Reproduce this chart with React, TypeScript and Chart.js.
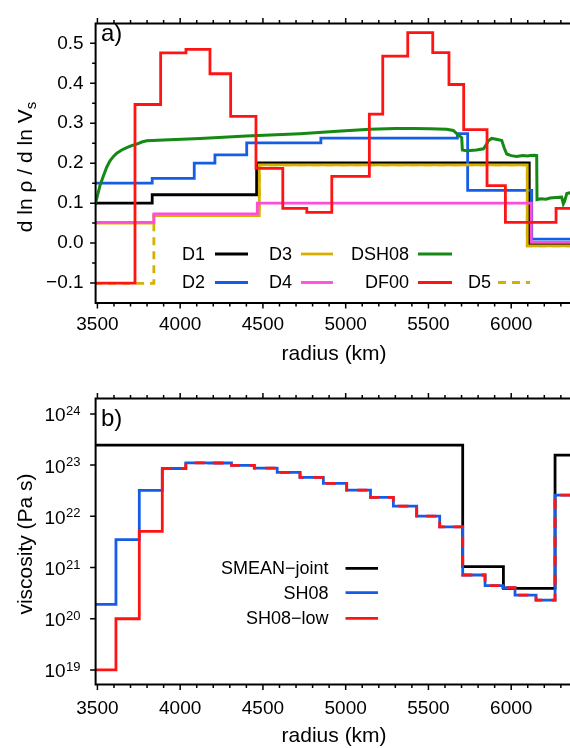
import React, { useEffect, useRef } from 'react';
import { Chart, registerables } from 'chart.js';

Chart.register(...registerables);

const FONT = '"Liberation Sans", Arial, Helvetica, sans-serif';

// ---------------- Panel a) : d ln rho / d ln Vs ----------------
const R_END = 6371;

const d1Radius = [3480, 3831, 4462, 6109];
const d1Value = [0.1, 0.121, 0.2005, -0.003];

const d2Radius = [3480, 3831, 4085, 4210, 4402, 4850, 5675, 5737, 6124];
const d2Value = [0.15, 0.162, 0.2, 0.221, 0.251, 0.263, 0.274, 0.132, 0.01];

const d3Radius = [3480, 3841, 4478, 6097];
const d3Value = [0.05, 0.069, 0.196, -0.007];

const d4Radius = [3480, 3841, 4466, 6121];
const d4Value = [0.052, 0.073, 0.1, 0.002];

const d5Radius = [3480, 3841, 4478, 6097];
const d5Value = [-0.101, 0.069, 0.196, -0.007];

const df00Radius = [3480, 3727, 3882, 4035, 4180, 4305, 4458, 4620, 4765, 4916, 5143, 5224, 5375, 5526, 5624, 5713, 5854, 5965, 6271];
const df00Value = [-0.1, 0.347, 0.476, 0.485, 0.424, 0.317, 0.187, 0.087, 0.077, 0.167, 0.323, 0.468, 0.527, 0.477, 0.397, 0.284, 0.144, 0.052, 0.087];

const dsh08Radius = [3485, 3492, 3516, 3536, 3556, 3576, 3597, 3617, 3647, 3677, 3707, 3738, 3768, 3798, 3900, 4120, 4400, 4724, 4950, 5146, 5300, 5409, 5510, 5610, 5650, 5671, 5690, 5701, 5705, 5730, 5751, 5790, 5832, 5848, 5862, 5882, 5910, 5943, 5958, 5973, 6000, 6033, 6070, 6100, 6114, 6140, 6154, 6156, 6180, 6210, 6235, 6270, 6305, 6315, 6322, 6336, 6356, 6371];
const dsh08Value = [0.095, 0.105, 0.145, 0.168, 0.19, 0.206, 0.217, 0.225, 0.233, 0.239, 0.244, 0.248, 0.253, 0.256, 0.258, 0.262, 0.268, 0.274, 0.28, 0.285, 0.287, 0.287, 0.286, 0.285, 0.282, 0.274, 0.268, 0.264, 0.233, 0.231, 0.232, 0.233, 0.236, 0.245, 0.256, 0.262, 0.26, 0.257, 0.238, 0.223, 0.219, 0.217, 0.219, 0.218, 0.219, 0.22, 0.219, 0.109, 0.111, 0.11, 0.113, 0.114, 0.115, 0.098, 0.104, 0.124, 0.126, 0.12];

const X_TICKS = [3500, 4000, 4500, 5000, 5500, 6000];
const X_MINOR = [3600, 3700, 3800, 3900, 4100, 4200, 4300, 4400, 4600, 4700, 4800, 4900, 5100, 5200, 5300, 5400, 5600, 5700, 5800, 5900, 6100, 6200, 6300];
const YA_TICKS = [-0.1, 0, 0.1, 0.2, 0.3, 0.4, 0.5];
const YA_MINOR = [-0.05, 0.05, 0.15, 0.25, 0.35, 0.45];

// ---------------- Panel b) : viscosity ----------------
const smeanRadius = [3480, 5707, 5953, 6265];
const smeanEta = [2.45e23, 1.04e21, 3.93e20, 1.57e23];

const sh08Radius = [3480, 3612, 3753, 3892, 4034, 4172, 4310, 4448, 4586, 4724, 4865, 5006, 5150, 5288, 5429, 5568, 5707, 5842, 5949, 6023, 6150, 6265];
const sh08Eta = [1.9e20, 3.5e21, 3.2e22, 8.6e22, 1.11e23, 1.1e23, 9.9e22, 8.7e22, 7.2e22, 5.75e22, 4.4e22, 3.25e22, 2.34e22, 1.58e22, 1.01e22, 6.25e21, 7.15e20, 4.42e20, 4.04e20, 2.9e20, 2.32e20, 2.6e22];
const sh08LowEta = [1.0e19, 1.0e20, 5.1e21, 8.6e22, 1.11e23, 1.1e23, 9.9e22, 8.7e22, 7.2e22, 5.75e22, 4.4e22, 3.25e22, 2.34e22, 1.58e22, 1.01e22, 6.25e21, 7.15e20, 4.42e20, 4.04e20, 2.9e20, 2.32e20, 2.6e22];

const LOG_TICKS = [1e19, 1e20, 1e21, 1e22, 1e23, 1e24];
const LOG_TICK_EXP = ['19', '20', '21', '22', '23', '24'];

// colours
const BLACK = '#000000';
const BLUE = '#155ce6';
const GOLD = '#d6b000';
const PINK = '#ff4ddb';
const GREEN = '#148a14';
const RED = '#ff1414';

function stepPoints(r: number[], v: number[], end: number) {
  const pts = r.map((x, i) => ({ x, y: v[i] }));
  pts.push({ x: end, y: v[v.length - 1] });
  return pts;
}

const framePlugin = {
  id: 'frame',
  afterDraw(chart: any, _args: any, opts: any) {
    const { ctx, chartArea: a, scales } = chart;
    const xs = scales.x;
    const ys = scales.y;
    ctx.save();
    ctx.strokeStyle = '#000';
    ctx.lineCap = 'square';
    ctx.lineWidth = 2;
    ctx.beginPath();
    ctx.moveTo(a.left, a.top);
    ctx.lineTo(a.left, a.bottom);
    ctx.lineTo(a.right + 20, a.bottom);
    ctx.moveTo(a.left, a.top);
    ctx.lineTo(a.right + 20, a.top);
    ctx.stroke();
    ctx.lineCap = 'butt';
    ctx.lineWidth = 1.5;
    ctx.beginPath();
    const xt = (list: number[], len: number) => {
      for (const v of list) {
        const px = xs.getPixelForValue(v);
        ctx.moveTo(px, a.bottom);
        ctx.lineTo(px, a.bottom + len);
        ctx.moveTo(px, a.top);
        ctx.lineTo(px, a.top - len);
      }
    };
    const yt = (list: number[], len: number) => {
      for (const v of list) {
        const py = ys.getPixelForValue(v);
        ctx.moveTo(a.left, py);
        ctx.lineTo(a.left - len, py);
      }
    };
    xt(opts.xMajor, 5.5);
    xt(opts.xMinor, 3.5);
    yt(opts.yMajor, 5.5);
    yt(opts.yMinor || [], 3.5);
    ctx.stroke();

    if (opts.logLabels) {
      ctx.fillStyle = '#000';
      ctx.textAlign = 'right';
      ctx.textBaseline = 'alphabetic';
      opts.yMajor.forEach((v: number, i: number) => {
        const py = ys.getPixelForValue(v);
        const exp = opts.logLabels[i];
        ctx.font = `13px ${FONT}`;
        const w = ctx.measureText(exp).width;
        ctx.fillText(exp, opts.logRight, py + 1);
        ctx.font = `19px ${FONT}`;
        ctx.fillText('10', opts.logRight - w - 0.5, py + 7.5);
      });
    }

    // panel label
    ctx.fillStyle = '#000';
    ctx.textAlign = 'left';
    ctx.textBaseline = 'middle';
    ctx.font = `24px ${FONT}`;
    ctx.fillText(opts.panel.text, opts.panel.x, opts.panel.y);

    // rotated y title
    const t = opts.yTitle;
    ctx.font = `21px ${FONT}`;
    const w1 = ctx.measureText(t.text).width;
    ctx.font = `15px ${FONT}`;
    const w2 = t.sub ? ctx.measureText(t.sub).width : 0;
    ctx.translate(t.x, t.y);
    ctx.rotate(-Math.PI / 2);
    ctx.textAlign = 'left';
    ctx.textBaseline = 'alphabetic';
    ctx.font = `21px ${FONT}`;
    ctx.fillText(t.text, -(w1 + w2) / 2, 0);
    if (t.sub) {
      ctx.font = `15px ${FONT}`;
      ctx.fillText(t.sub, -(w1 + w2) / 2 + w1, 4);
    }
    ctx.restore();
  },
};

const legendPlugin = {
  id: 'sideLegend',
  afterDraw(chart: any, _args: any, opts: any) {
    const { ctx } = chart;
    ctx.save();
    ctx.font = `18px ${FONT}`;
    ctx.textAlign = 'right';
    ctx.textBaseline = 'middle';
    for (const it of opts.items) {
      const ds = chart.data.datasets[it.ds];
      ctx.fillStyle = '#000';
      ctx.fillText(ds.label, it.textRight, it.y + 1);
      ctx.strokeStyle = ds.borderColor;
      ctx.lineWidth = ds.borderWidth;
      ctx.setLineDash(ds.borderDash && ds.borderDash.length ? ds.borderDash : []);
      ctx.beginPath();
      ctx.moveTo(it.x1, it.y);
      ctx.lineTo(it.x2, it.y);
      ctx.stroke();
      ctx.setLineDash([]);
    }
    ctx.restore();
  },
};

function stepDs(label: string, r: number[], v: number[], color: string, order: number, extra: any = {}) {
  return {
    label,
    data: stepPoints(r, v, R_END),
    borderColor: color,
    backgroundColor: color,
    borderWidth: 2.8,
    pointRadius: 0,
    stepped: true,
    fill: false,
    order,
    ...extra,
  };
}

const tickFont = { family: FONT, size: 19 };

function topConfig(): any {
  return {
    type: 'line',
    data: {
      datasets: [
        stepDs('D1', d1Radius, d1Value, BLACK, 7),
        stepDs('D2', d2Radius, d2Value, BLUE, 6),
        stepDs('D3', d3Radius, d3Value, GOLD, 5),
        stepDs('D4', d4Radius, d4Value, PINK, 4),
        {
          label: 'DSH08',
          data: dsh08Radius.map((x, i) => ({ x, y: dsh08Value[i] })),
          borderColor: GREEN,
          backgroundColor: GREEN,
          borderWidth: 3,
          pointRadius: 0,
          tension: 0,
          fill: false,
          order: 3,
        },
        stepDs('DF00', df00Radius, df00Value, RED, 2),
        stepDs('D5', d5Radius, d5Value, GOLD, 8, { borderDash: [8, 6] }),
      ],
    },
    options: {
      responsive: false,
      animation: false,
      events: [],
      layout: { padding: { left: 0, right: 7.4, top: 16, bottom: 0 } },
      plugins: {
        legend: { display: false },
        tooltip: { enabled: false },
        frame: {
          xMajor: X_TICKS,
          xMinor: X_MINOR,
          yMajor: YA_TICKS,
          yMinor: YA_MINOR,
          panel: { text: 'a)', x: 101, y: 34 },
          yTitle: { text: 'd ln ρ / d ln V', sub: 's', x: 32, y: 167 },
        },
        sideLegend: {
          items: [
            { ds: 0, textRight: 205, x1: 215, x2: 248, y: 254 },
            { ds: 2, textRight: 292, x1: 301, x2: 333, y: 254 },
            { ds: 4, textRight: 409, x1: 418, x2: 452, y: 254 },
            { ds: 1, textRight: 205, x1: 215, x2: 248, y: 282.5 },
            { ds: 3, textRight: 292, x1: 301, x2: 333, y: 282.5 },
            { ds: 5, textRight: 409, x1: 418, x2: 452, y: 282.5 },
            { ds: 6, textRight: 491, x1: 498, x2: 530, y: 282.5 },
          ],
        },
      },
      scales: {
        x: {
          type: 'linear',
          min: 3489,
          max: 6371,
          grid: { display: false, drawTicks: false },
          border: { display: false },
          afterBuildTicks: (s: any) => {
            s.ticks = X_TICKS.map((value) => ({ value }));
          },
          afterFit: (s: any) => {
            s.height = 77;
          },
          ticks: { font: tickFont, color: '#000', padding: 10.5, maxRotation: 0, autoSkip: false, callback: (v: any) => String(v) },
          title: { display: true, text: 'radius (km)', font: { family: FONT, size: 21 }, color: '#000', padding: { top: 0, bottom: 13.4 } },
        },
        y: {
          type: 'linear',
          min: -0.15,
          max: 0.55,
          grid: { display: false, drawTicks: false },
          border: { display: false },
          afterBuildTicks: (s: any) => {
            s.ticks = YA_TICKS.map((value) => ({ value }));
          },
          afterFit: (s: any) => {
            s.width = 95.6;
          },
          ticks: {
            font: tickFont,
            color: '#000',
            padding: 12,
            autoSkip: false,
            callback: (v: any) => Number(v).toFixed(1).replace('-', '−'),
          },
        },
      },
    },
    plugins: [framePlugin, legendPlugin],
  };
}

function bottomConfig(): any {
  return {
    type: 'line',
    data: {
      datasets: [
        stepDs('SMEAN−joint', smeanRadius, smeanEta, BLACK, 3),
        stepDs('SH08', sh08Radius, sh08Eta, BLUE, 2),
        stepDs('SH08−low', sh08Radius, sh08LowEta, RED, 1, {
          segment: {
            borderDash: (c: any) => (sh08LowEta[c.p0DataIndex] === sh08Eta[c.p0DataIndex] ? [10, 9] : undefined),
          },
        }),
      ],
    },
    options: {
      responsive: false,
      animation: false,
      events: [],
      layout: { padding: { left: 0, right: 7.4, top: 18.5, bottom: 0 } },
      plugins: {
        legend: { display: false },
        tooltip: { enabled: false },
        frame: {
          xMajor: X_TICKS,
          xMinor: X_MINOR,
          yMajor: LOG_TICKS,
          yMinor: [],
          logLabels: LOG_TICK_EXP,
          logRight: 80.5,
          panel: { text: 'b)', x: 101, y: 39 },
          yTitle: { text: 'viscosity (Pa s)', sub: '', x: 31.5, y: 164 },
        },
        sideLegend: {
          items: [
            { ds: 0, textRight: 328.5, x1: 345.5, x2: 378, y: 188.3 },
            { ds: 1, textRight: 328.5, x1: 345.5, x2: 378, y: 212.7 },
            { ds: 2, textRight: 328.5, x1: 345.5, x2: 378, y: 238.3 },
          ],
        },
      },
      scales: {
        x: {
          type: 'linear',
          min: 3489,
          max: 6371,
          grid: { display: false, drawTicks: false },
          border: { display: false },
          afterBuildTicks: (s: any) => {
            s.ticks = X_TICKS.map((value) => ({ value }));
          },
          afterFit: (s: any) => {
            s.height = 67.5;
          },
          ticks: { font: tickFont, color: '#000', padding: 12.5, maxRotation: 0, autoSkip: false, callback: (v: any) => String(v) },
          title: { display: true, text: 'radius (km)', font: { family: FONT, size: 21 }, color: '#000', padding: { top: 0, bottom: 2.9 } },
        },
        y: {
          type: 'logarithmic',
          min: 5.2e18,
          max: 2.0e24,
          grid: { display: false, drawTicks: false },
          border: { display: false },
          afterBuildTicks: (s: any) => {
            s.ticks = LOG_TICKS.map((value) => ({ value }));
          },
          afterFit: (s: any) => {
            s.width = 95.6;
          },
          ticks: { display: false },
        },
      },
    },
    plugins: [framePlugin, legendPlugin],
  };
}

export default function App() {
  const topRef = useRef<HTMLCanvasElement | null>(null);
  const botRef = useRef<HTMLCanvasElement | null>(null);

  useEffect(() => {
    const c1 = new Chart(topRef.current as HTMLCanvasElement, topConfig());
    const c2 = new Chart(botRef.current as HTMLCanvasElement, bottomConfig());
    return () => {
      c1.destroy();
      c2.destroy();
    };
  }, []);

  return (
    <div
      style={{
        position: 'absolute',
        left: 0,
        top: 0,
        width: 570,
        height: 748,
        overflow: 'hidden',
        background: '#fff',
      }}
    >
      <canvas
        ref={topRef}
        width={580}
        height={380}
        style={{ position: 'absolute', left: 0, top: 0, width: 580, height: 380 }}
      />
      <canvas
        ref={botRef}
        width={580}
        height={372}
        style={{ position: 'absolute', left: 0, top: 380, width: 580, height: 372 }}
      />
    </div>
  );
}
